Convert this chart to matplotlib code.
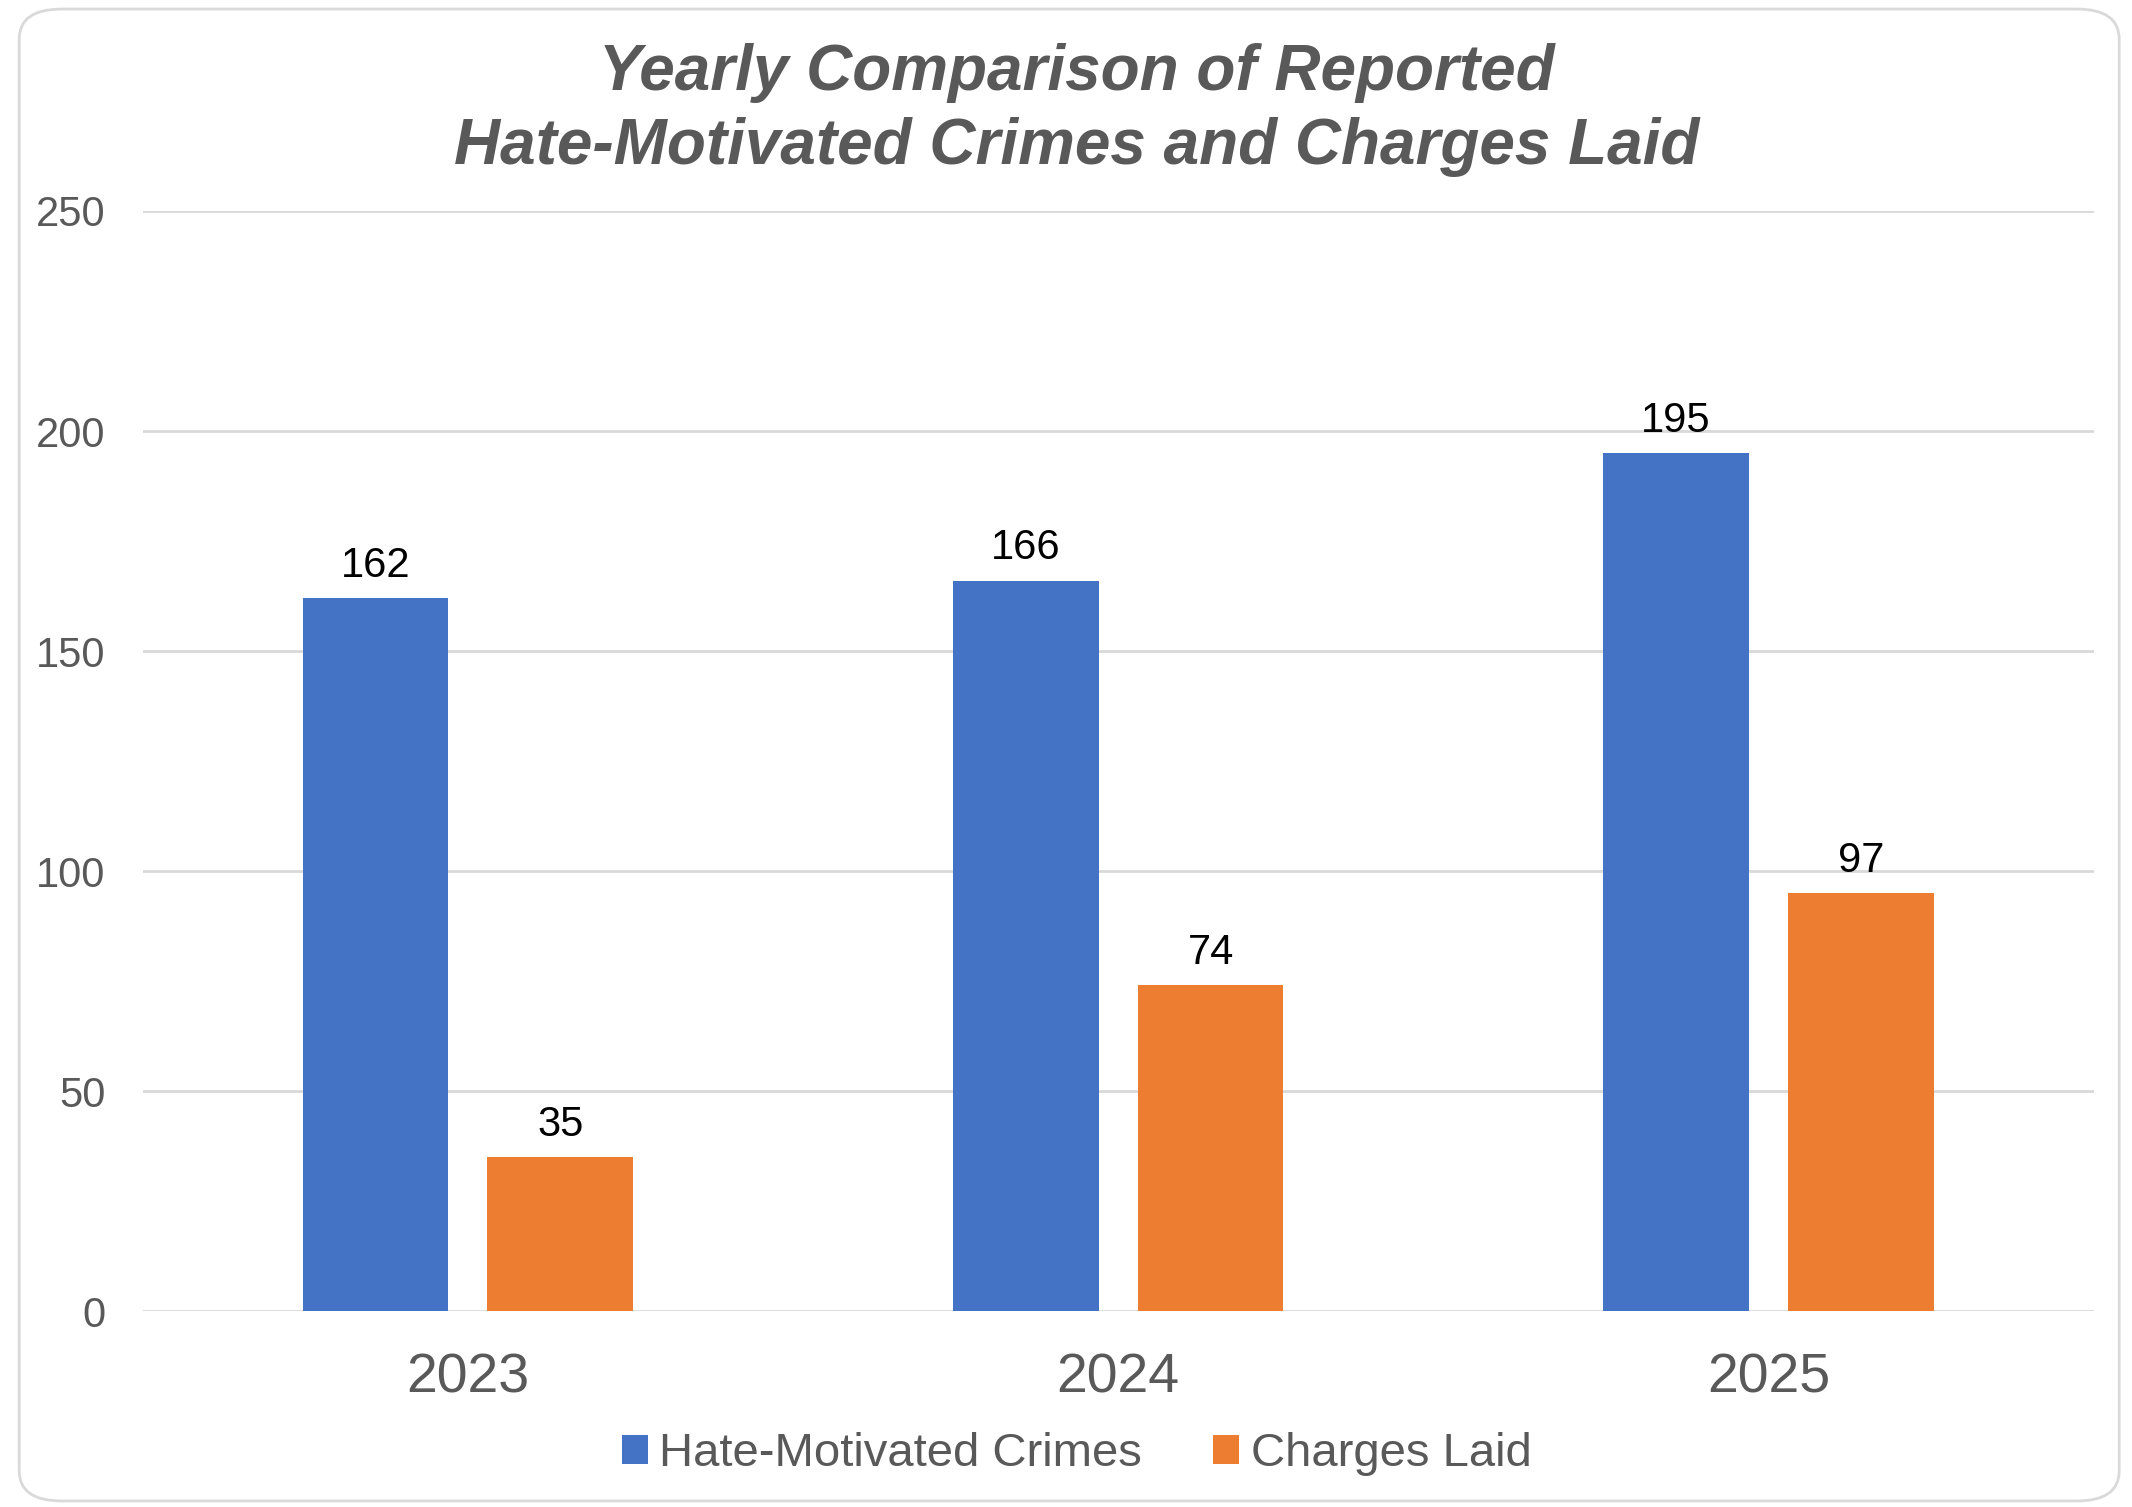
import numpy as np
import matplotlib.pyplot as plt
from matplotlib.patches import FancyBboxPatch

plt.rcParams['font.family'] = ['Liberation Sans', 'DejaVu Sans']

# Data
years = ['2023', '2024', '2025']
crimes = [162, 166, 195]
charges = [35, 74, 95]
crimes_labels = ['162', '166', '195']
charges_labels = ['35', '74', '97']

blue = '#4472C4'
orange = '#ED7D31'
grey = '#595959'

fig = plt.figure(figsize=(21.32, 15.07), dpi=100)
ax = fig.add_axes([0.067, 0.130, 0.915, 0.730])

# Rounded frame around the chart
frame = FancyBboxPatch((0.009, 0.004), 0.985, 0.99,
                       boxstyle="round,pad=0,rounding_size=0.02",
                       transform=fig.transFigure, facecolor='none',
                       edgecolor='#D9D9D9', linewidth=2, zorder=0)
fig.patches.append(frame)

x = np.arange(len(years))
w = 0.224
off = 0.142
b1 = ax.bar(x - off, crimes, w, color=blue, label='Hate-Motivated Crimes', zorder=3)
b2 = ax.bar(x + off, charges, w, color=orange, label='Charges Laid', zorder=3)

for bars, labs in [(b1, crimes_labels), (b2, charges_labels)]:
    for bar, lab in zip(bars, labs):
        ax.annotate(lab, (bar.get_x() + bar.get_width() / 2, bar.get_height()),
                    xytext=(0, 9), textcoords='offset points',
                    ha='center', va='bottom', fontsize=30, color='black')

ax.set_xlim(-0.5, 2.5)
ax.set_ylim(0, 250)
ax.set_yticks([0, 50, 100, 150, 200, 250])
ax.set_xticks(x)
ax.set_xticklabels(years)
ax.tick_params(axis='y', labelsize=30, labelcolor=grey, length=0, pad=27)
ax.tick_params(axis='x', labelsize=40, labelcolor=grey, length=0, pad=30)
ax.grid(axis='y', color='#D9D9D9', linewidth=2, zorder=0)
for s in ax.spines.values():
    s.set_visible(False)

fig.text(0.505, 0.927, 'Yearly Comparison of Reported\nHate-Motivated Crimes and Charges Laid',
         ha='center', va='center', fontsize=46, fontweight='bold', fontstyle='italic',
         color=grey, linespacing=1.3)

fig.legend(loc='center', bbox_to_anchor=(0.505, 0.035), ncol=2, frameon=False,
           fontsize=34, labelcolor=grey, handlelength=0.55, handleheight=0.55,
           handletextpad=0.25, columnspacing=1.5)

fig.savefig('out.png', dpi=100)
